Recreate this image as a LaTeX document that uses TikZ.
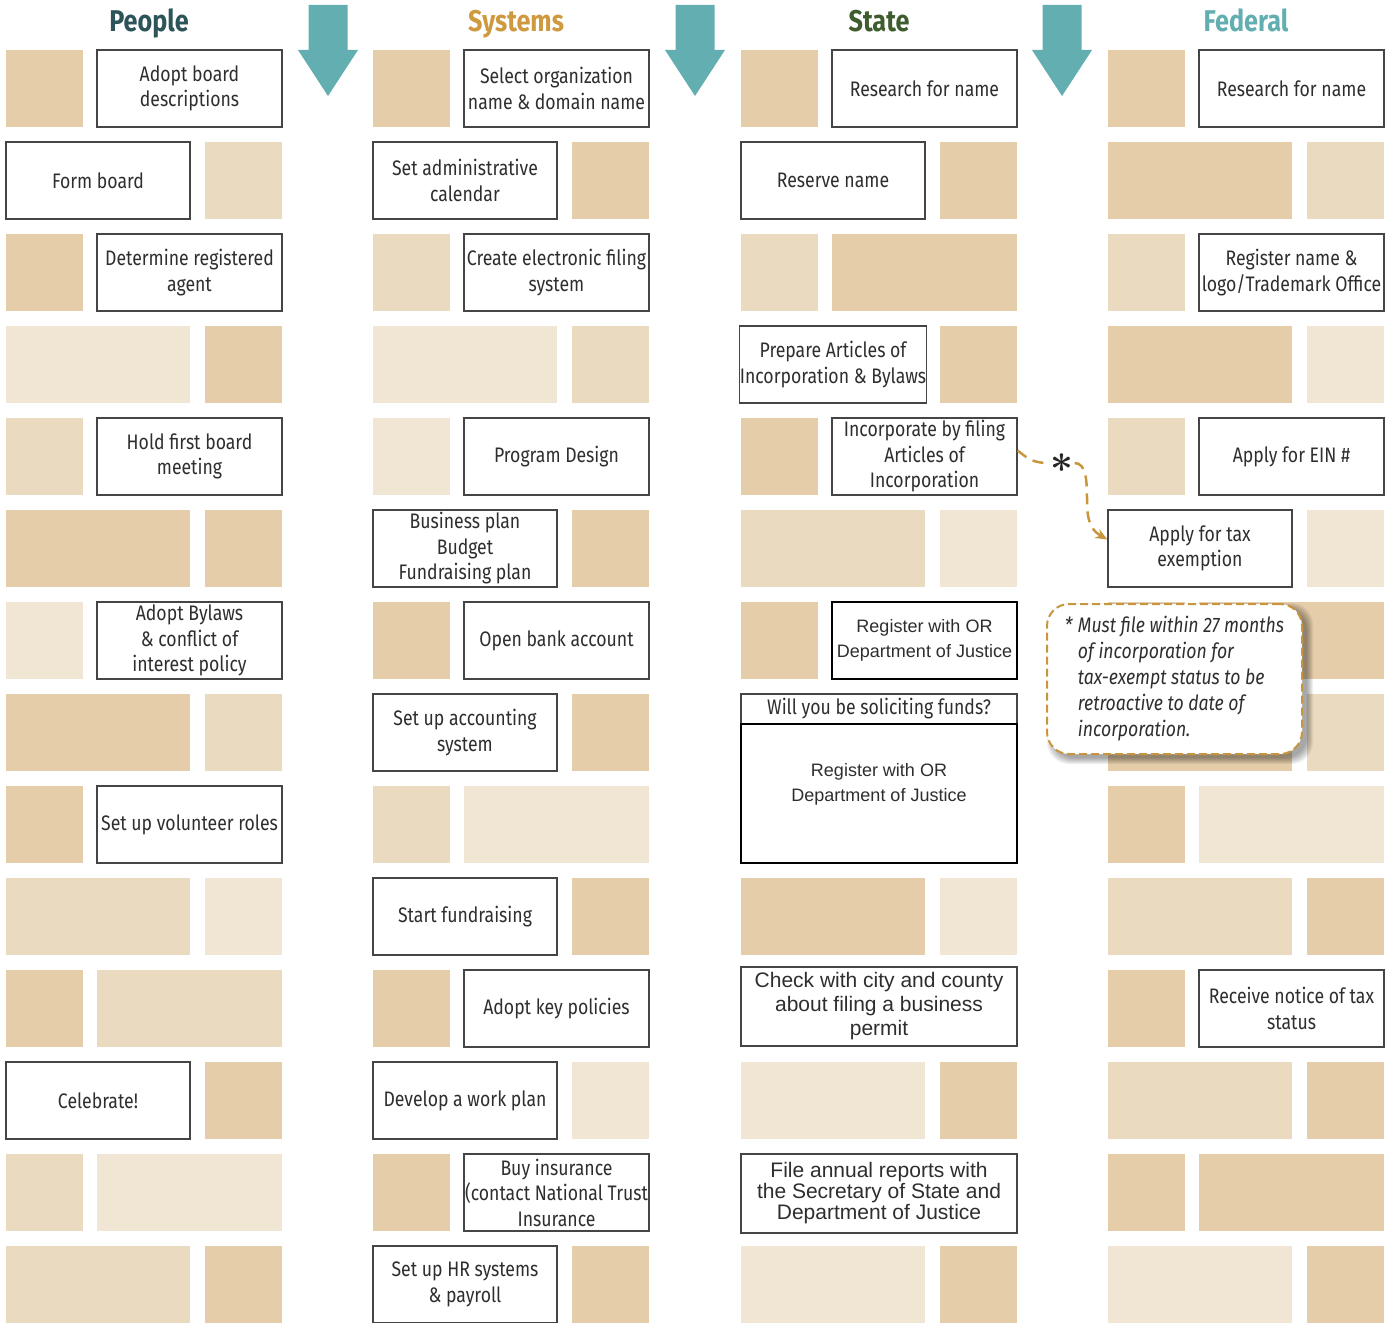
\documentclass[tikz,border=0pt]{standalone}
\usepackage{fontspec}
\setmainfont{Fira Sans}[FakeStretch=0.84]
\newfontfamily\arialf{Liberation Sans}
\usetikzlibrary{arrows.meta}
\definecolor{tD}{HTML}{E5CDAA}
\definecolor{tM}{HTML}{EADAC0}
\definecolor{tL}{HTML}{F1E6D4}
\definecolor{boxgray}{HTML}{454545}
\definecolor{txt}{HTML}{2E2E2E}
\definecolor{arrowteal}{HTML}{63AEB1}
\definecolor{hPeople}{HTML}{2C5459}
\definecolor{hSystems}{HTML}{CF9A3F}
\definecolor{hState}{HTML}{3E5C2E}
\definecolor{gold}{HTML}{C8963E}
% filler cells: x0, top, offset, width, colour
\newcommand\cell[5]{\fill[#5,shift={(#1,#2)}] (#3,0) rectangle ++(#4,77);}
\newcommand\As[3]{\cell{#1}{#2}{0}{77}{#3}}
\newcommand\Ab[3]{\cell{#1}{#2}{91}{185}{#3}}
\newcommand\Bb[3]{\cell{#1}{#2}{0}{184}{#3}}
\newcommand\Bs[3]{\cell{#1}{#2}{199}{77}{#3}}
\begin{document}
\begin{tikzpicture}[x=1pt,y=-1pt,
  tbox/.style={draw=boxgray,line width=1.3pt,fill=white,align=center,inner sep=0pt,text=txt,font=\fontsize{21}{25.5}\selectfont},
  boxA/.style={tbox,minimum width=185pt,minimum height=77pt},
  boxB/.style={tbox,minimum width=184pt,minimum height=77pt},
  abox/.style={tbox,font=\arialf\fontsize{18}{25}\selectfont},
  head/.style={anchor=base,font=\bfseries\fontsize{30}{30}\selectfont},
  callout/.style={draw=gold,line width=2pt,dash pattern=on 8pt off 4pt,rounded corners=22pt,fill=white,
     minimum width=255pt,minimum height=150pt,align=left,text=txt,inner sep=0pt,
     font=\itshape\fontsize{21}{26}\selectfont},
  link/.style={draw=gold,line width=2.5pt,dash pattern=on 11pt off 7pt}
  ]
\useasboundingbox (0,0) rectangle (1388,1322);

% ---------- People fillers
\As{6}{50}{tD}
\Bs{6}{142}{tM}
\As{6}{234}{tD}
\Bb{6}{326}{tL}\Bs{6}{326}{tD}
\As{6}{418}{tM}
\Bb{6}{510}{tD}\Bs{6}{510}{tD}
\As{6}{602}{tL}
\Bb{6}{694}{tD}\Bs{6}{694}{tM}
\As{6}{786}{tD}
\Bb{6}{878}{tM}\Bs{6}{878}{tL}
\As{6}{970}{tD}\Ab{6}{970}{tM}
\Bs{6}{1062}{tD}
\As{6}{1154}{tM}\Ab{6}{1154}{tL}
\Bb{6}{1246}{tM}\Bs{6}{1246}{tD}
% ---------- Systems fillers
\As{373}{50}{tD}
\Bs{373}{142}{tD}
\As{373}{234}{tM}
\Bb{373}{326}{tL}\Bs{373}{326}{tM}
\As{373}{418}{tL}
\Bs{373}{510}{tD}
\As{373}{602}{tD}
\Bs{373}{694}{tD}
\As{373}{786}{tM}\Ab{373}{786}{tL}
\Bs{373}{878}{tD}
\As{373}{970}{tD}
\Bs{373}{1062}{tL}
\As{373}{1154}{tD}
\Bs{373}{1246}{tD}
% ---------- State fillers
\As{741}{50}{tD}
\Bs{741}{142}{tD}
\As{741}{234}{tM}\Ab{741}{234}{tD}
\Bs{741}{326}{tD}
\As{741}{418}{tD}
\Bb{741}{510}{tM}\Bs{741}{510}{tL}
\As{741}{602}{tD}
\Bb{741}{878}{tD}\Bs{741}{878}{tL}
\Bb{741}{1062}{tL}\Bs{741}{1062}{tD}
\Bb{741}{1246}{tL}\Bs{741}{1246}{tD}
% ---------- Federal fillers
\As{1108}{50}{tD}
\Bb{1108}{142}{tD}\Bs{1108}{142}{tM}
\As{1108}{234}{tM}
\Bb{1108}{326}{tD}\Bs{1108}{326}{tL}
\As{1108}{418}{tM}
\Bs{1108}{510}{tL}
\As{1108}{602}{tD}\Ab{1108}{602}{tD}
\Bb{1108}{694}{tD}\Bs{1108}{694}{tM}
\As{1108}{786}{tD}\Ab{1108}{786}{tL}
\Bb{1108}{878}{tM}\Bs{1108}{878}{tD}
\As{1108}{970}{tD}
\Bb{1108}{1062}{tM}\Bs{1108}{1062}{tD}
\As{1108}{1154}{tD}\Ab{1108}{1154}{tD}
\Bb{1108}{1246}{tL}\Bs{1108}{1246}{tD}

% ---------- big arrows
\foreach \dx in {0,367,734}
  \fill[arrowteal,shift={(\dx,0)}] (308.5,5) -- (347.5,5) -- (347.5,50) -- (358,50)
     -- (328,96) -- (298,50) -- (308.5,50) -- cycle;

% ---------- headings
\node[head,text=hPeople] (hP) at (149,32) {People};
\node[head,text=hSystems] (hS) at (516,32) {Systems};
\node[head,text=hState] (hT) at (879,32) {State};
\node[head,text=arrowteal] (hF) at (1246,32) {Federal};

% ---------- People boxes
\node[boxA] (p1) at (189.5,88.5) {Adopt board\\descriptions};
\node[boxB] (p2) at (98,180.5) {Form board};
\node[boxA] (p3) at (189.5,272.5) {Determine registered\\agent};
\node[boxA] (p5) at (189.5,456.5) {Hold first board\\meeting};
\node[boxA] (p7) at (189.5,640.5) {Adopt Bylaws\\\& conflict of\\interest policy};
\node[boxA] (p9) at (189.5,824.5) {Set up volunteer roles};
\node[boxB] (p12) at (98,1100.5) {Celebrate!};

% ---------- Systems boxes
\node[boxA] (s1) at (556.5,88.5) {Select organization\\name \& domain name};
\node[boxB] (s2) at (465,180.5) {Set administrative\\calendar};
\node[boxA] (s3) at (556.5,272.5) {Create electronic filing\\system};
\node[boxA] (s5) at (556.5,456.5) {Program Design};
\node[boxB] (s6) at (465,548.5) {Business plan\\Budget\\Fundraising plan};
\node[boxA] (s7) at (556.5,640.5) {Open bank account};
\node[boxB] (s8) at (465,732.5) {Set up accounting\\system};
\node[boxB] (s10) at (465,916.5) {Start fundraising};
\node[boxA] (s11) at (556.5,1008.5) {Adopt key policies};
\node[boxB] (s12) at (465,1100.5) {Develop a work plan};
\node[boxA] (s13) at (556.5,1192.5) {Buy insurance\\(contact National Trust\\Insurance};
\node[boxB] (s14) at (465,1284.5) {Set up HR systems\\\& payroll};

% ---------- State boxes
\node[boxA] (t1) at (924.5,88.5) {Research for name};
\node[boxB] (t2) at (833,180.5) {Reserve name};
\node[boxB] (t4) at (833,364.5) {Prepare Articles of\\Incorporation \& Bylaws};
\node[boxA] (t5) at (924.5,456.5) {Incorporate by filing\\Articles of\\Incorporation};
\node[boxA,abox,draw=black,line width=2pt] (t7) at (924.5,640.5) {Register with OR\\Department of Justice};
\node[tbox,minimum width=276pt,minimum height=30pt] (t8) at (879,709) {Will you be soliciting funds?};
\node[tbox,draw=black,line width=1.8pt,minimum width=276pt,minimum height=139pt] (t9) at (879,793.5) {};
\node[abox,draw=none,fill=none] (t9txt) at ([yshift=9.5pt]t9.center) {Register with OR\\Department of Justice};
\node[abox,minimum width=276pt,minimum height=79pt,font=\arialf\fontsize{21}{24}\selectfont] (t11) at (879,1006.5) {Check with city and county\\about filing a business\\permit};
\node[abox,minimum width=276pt,minimum height=79pt,font=\arialf\fontsize{21}{21}\selectfont] (t13) at (879,1193.5) {File annual reports with\\the Secretary of State and\\Department of Justice};

% ---------- Federal boxes
\node[boxA] (f1) at (1291.5,88.5) {Research for name};
\node[boxA] (f3) at (1291.5,272.5) {Register name \&\\logo/Trademark Office};
\node[boxA] (f5) at (1291.5,456.5) {Apply for EIN \#};
\node[boxB] (f6) at (1200,548.5) {Apply for tax\\exemption};
\node[boxA] (f11) at (1291.5,1008.5) {Receive notice of tax\\status};

% ---------- callout with soft shadow
\foreach \i in {0,...,6}
  \fill[black,opacity=0.06,rounded corners=22pt] (1053-\i,609-\i) rectangle (1307+\i,758+\i);
\node[callout] (note) at (1174.5,679) {\makebox[13pt][l]{*}Must file within 27 months\\
  \hspace*{13pt}of incorporation for\\
  \hspace*{13pt}tax-exempt status to be\\
  \hspace*{13pt}retroactive to date of\\
  \hspace*{13pt}incorporation.};

% ---------- dashed connector
\node[inner sep=1pt,text=black!85] (star) at (1062,463) {\scalebox{1.6}{\fontsize{24}{24}\selectfont\boldmath$\ast$}};
\coordinate (bend) at (1087,502);
\coordinate (taxin) at ([yshift=9pt]f6.west);
\draw[link] ([yshift=6pt]t5.east) .. controls +(12,10) and +(-14,0) .. (star.west);
\draw[link,-{Stealth[length=12pt,width=10pt]}] (star.east) .. controls +(12,0) and +(0,-20) .. (bend)
   .. controls +(0,22) and +(-14,-8) .. (taxin);
\end{tikzpicture}
\end{document}
